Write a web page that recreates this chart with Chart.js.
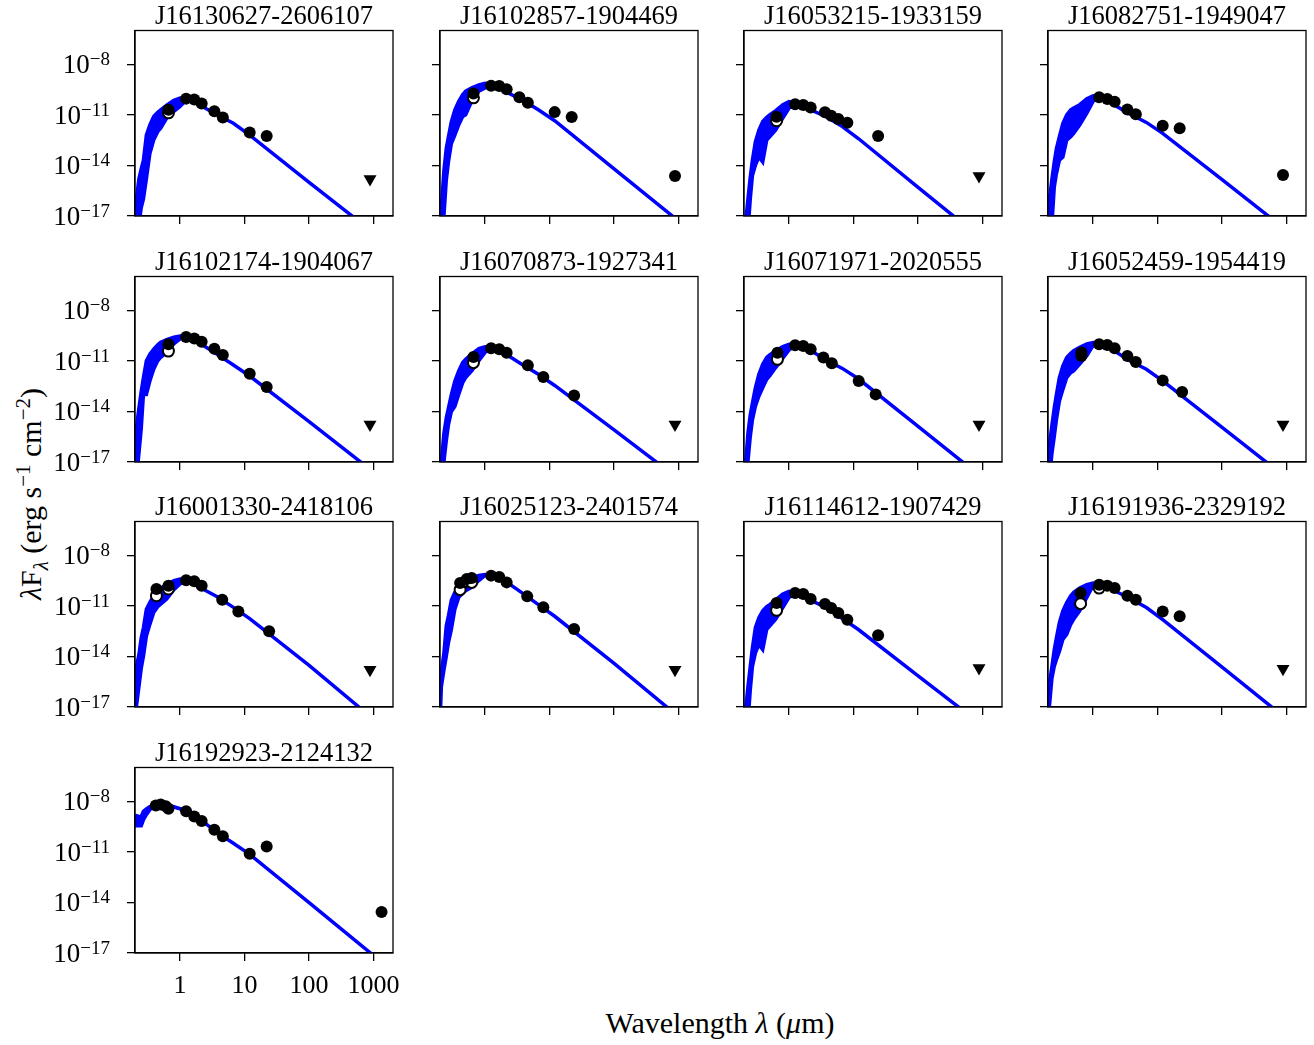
<!DOCTYPE html>
<html>
<head>
<meta charset="utf-8">
<script src="https://cdn.jsdelivr.net/npm/chart.js@4.4.1/dist/chart.umd.min.js"></script>
<style>
  body { margin: 0; background: #fff; }
  #fig { position: relative; width: 1314px; height: 1045px; overflow: hidden; font-family: 'Liberation Serif', 'DejaVu Serif', serif; color: #000; }
  #fig canvas { position: absolute; }
  .axlabel { position: absolute; font-size: 30px; white-space: nowrap; line-height: 1; }
  .axlabel sup, .axlabel sub { font-size: 0.7em; }
  #ylab { left: 32px; top: 494px; transform: translate(-50%, -50%) rotate(-90deg); }
  #xlab { left: 720px; top: 1023px; transform: translate(-50%, -50%); }
</style>
</head>
<body>
<div id="fig">
  <div class="axlabel" id="ylab"><i>λ</i>F<sub><i>λ</i></sub> (erg s<sup>−1</sup> cm<sup>−2</sup>)</div>
  <div class="axlabel" id="xlab">Wavelength <i>λ</i> (<i>μ</i>m)</div>
</div>
<script>
Chart.defaults.font.family = "'Liberation Serif', 'DejaVu Serif', serif";
Chart.defaults.color = '#000';

const titles = [
  'J16130627-2606107', 'J16102857-1904469', 'J16053215-1933159', 'J16082751-1949047',
  'J16102174-1904067', 'J16070873-1927341', 'J16071971-2020555', 'J16052459-1954419',
  'J16001330-2418106', 'J16025123-2401574', 'J16114612-1907429', 'J16191936-2329192',
  'J16192923-2124132'
];

// photosphere model, upper edge of the line (log10 of lambda F_lambda)
const modelWave = [0.2, 0.21, 0.23, 0.25, 0.27, 0.3, 0.34, 0.39, 0.45, 0.5, 0.62, 0.8, 1.0, 1.3, 2.0, 3.7, 6.7, 12, 100, 1000, 3000];
const modelLogFlux = [
  [-18, -16.0, -14.8, -14.2, -13.7, -12.2, -11.6, -11.1, -10.85, -10.7, -10.43, -10.14, -10.0, -10.05, -10.4, -11.0, -11.5, -12.2, -15.0, -18.0, -19.4],
  [-17.5, -16.5, -14.3, -13.0, -12.3, -11.4, -10.7, -10.2, -9.8, -9.6, -9.4, -9.22, -9.13, -9.2, -9.6, -10.1, -10.7, -11.35, -14.2, -17.3, -18.8],
  [-18, -17.5, -16.0, -14.7, -13.7, -12.6, -11.9, -11.4, -11.15, -11.0, -10.75, -10.4, -10.22, -10.3, -10.65, -11.1, -11.7, -12.42, -15.3, -18.4, -19.9],
  [-18, -16.05, -14.8, -13.8, -13.0, -12.3, -11.5, -11.0, -10.7, -10.6, -10.4, -10.05, -9.87, -9.95, -10.35, -10.95, -11.45, -12.1, -14.85, -17.85, -19.3],
  [-17.5, -15.0, -13.8, -12.8, -12.0, -11.0, -10.6, -10.3, -10.05, -9.9, -9.75, -9.6, -9.53, -9.6, -9.95, -10.6, -11.25, -11.9, -14.6, -17.6, -19.0],
  [-18, -17.0, -15.3, -14.4, -13.8, -13.0, -12.2, -11.6, -11.1, -10.9, -10.6, -10.28, -10.16, -10.2, -10.55, -11.2, -11.8, -12.46, -15.1, -18.0, -19.4],
  [-18, -17.3, -15.3, -14.2, -13.5, -12.6, -11.8, -11.2, -10.8, -10.65, -10.4, -10.15, -10.02, -10.1, -10.3, -10.95, -11.45, -12.08, -14.89, -17.95, -19.4],
  [-18, -16.0, -14.8, -13.8, -13.0, -12.0, -11.3, -10.8, -10.55, -10.4, -10.2, -10.0, -9.92, -10.0, -10.35, -11.0, -11.5, -12.19, -14.95, -17.95, -19.4],
  [-15.2, -14.6, -13.9, -12.9, -12.3, -11.2, -10.8, -10.4, -10.05, -9.95, -9.75, -9.5, -9.41, -9.5, -9.9, -10.45, -11.09, -11.76, -14.53, -17.73, -19.25],
  [-15.6, -14.9, -13.8, -12.2, -11.6, -10.65, -10.2, -9.95, -9.78, -9.6, -9.35, -9.2, -9.15, -9.2, -9.5, -10.22, -10.93, -11.62, -14.41, -17.58, -19.1],
  [-18, -17.3, -15.8, -14.6, -13.5, -12.3, -11.7, -11.3, -11.05, -10.93, -10.65, -10.3, -10.14, -10.25, -10.6, -11.1, -11.75, -12.42, -15.15, -18.1, -19.5],
  [-18, -15.6, -14.6, -13.6, -12.9, -12.0, -11.3, -10.8, -10.4, -10.2, -9.95, -9.75, -9.65, -9.7, -10.05, -10.55, -11.1, -11.82, -14.64, -17.71, -19.2],
  [-8.9, -8.85, -8.9, -8.9, -8.6, -8.45, -8.32, -8.24, -8.2, -8.2, -8.25, -8.32, -8.44, -8.6, -9.03, -9.85, -10.49, -11.15, -14.01, -17.15, -18.65]
];

// lower edge of the noisy optical part of the model
const bandWave = [0.2, 0.21, 0.23, 0.25, 0.27, 0.3, 0.34, 0.39, 0.45, 0.5, 0.62, 0.8, 1.0, 1.3];
const bandLogFlux = [
  [-18, -18, -17.5, -16.5, -16.0, -14.8, -13.3, -12.5, -12.0, -11.8, -11.2, -10.8, -10.5, -10.05],
  [-18, -18, -17.0, -14.9, -13.8, -12.7, -12.2, -11.6, -11.1, -11.0, -10.2, -9.6, -9.4, -9.2],
  [-18, -18, -18, -16.0, -14.6, -14.0, -13.5, -13.8, -12.5, -12.3, -11.9, -11.2, -10.6, -10.3],
  [-18, -18, -17.5, -15.3, -14.5, -13.7, -13.5, -12.5, -12.3, -12.1, -11.6, -10.9, -10.2, -9.95],
  [-18, -18, -16.5, -15.0, -13.0, -13.0, -12.2, -11.5, -11.0, -10.8, -10.5, -10.0, -9.7, -9.6],
  [-18, -18, -17.0, -15.75, -14.8, -14.0, -13.7, -13.0, -12.3, -12.0, -11.6, -11.0, -10.5, -10.2],
  [-18, -18, -17.0, -15.5, -14.5, -13.7, -13.1, -12.6, -12.1, -11.9, -11.4, -10.85, -10.35, -10.1],
  [-18, -18, -16.5, -15.5, -14.5, -13.4, -12.7, -12.0, -11.7, -11.6, -11.2, -10.7, -10.1, -10.0],
  [-18, -17.0, -15.8, -14.7, -14.0, -12.8, -12.1, -11.4, -11.05, -10.9, -10.6, -10.04, -9.7, -9.5],
  [-18, -15.8, -14.8, -14.0, -13.2, -12.4, -11.2, -10.5, -10.25, -10.1, -9.9, -9.5, -9.2, -9.2],
  [-18, -18, -18, -16.0, -14.6, -13.8, -13.3, -13.6, -12.4, -12.2, -11.8, -11.1, -10.5, -10.25],
  [-18, -17.0, -15.3, -14.6, -14.2, -13.7, -13.0, -12.7, -12.1, -11.8, -11.3, -10.5, -9.8, -9.7],
  [-9.45, -9.45, -9.45, -9.45, -9.1, -8.8, -8.5, -8.35, -8.3, -8.28, -8.3, -8.35, -8.45, -8.6]
];

// photometry: filled = detections
const filledWave = [
  [0.66, 1.24, 1.66, 2.16, 3.4, 4.6, 12, 22],
  [0.66, 1.24, 1.66, 2.16, 3.4, 4.6, 12, 22, 880],
  [0.64, 1.24, 1.66, 2.16, 3.6, 4.5, 5.8, 8.0, 24],
  [1.24, 1.66, 2.16, 3.4, 4.6, 12, 22, 880],
  [0.66, 1.24, 1.66, 2.16, 3.4, 4.6, 12, 22],
  [0.66, 1.24, 1.66, 2.16, 4.6, 8.0, 24],
  [0.66, 1.24, 1.66, 2.16, 3.4, 4.6, 12, 22],
  [0.66, 0.66, 1.24, 1.66, 2.16, 3.4, 4.6, 12, 24],
  [0.43, 0.66, 1.24, 1.66, 2.16, 4.5, 8.0, 24],
  [0.41, 0.52, 0.62, 1.24, 1.66, 2.16, 4.5, 8.0, 24],
  [0.64, 1.24, 1.66, 2.16, 3.6, 4.5, 5.8, 8.0, 24],
  [0.64, 1.24, 1.66, 2.16, 3.4, 4.6, 12, 22],
  [0.42, 0.5, 0.6, 0.66, 1.24, 1.66, 2.16, 3.4, 4.6, 12, 22, 1330]
];
const filledLogFlux = [
  [-10.7, -10.04, -10.09, -10.33, -10.79, -11.16, -12.05, -12.25],
  [-9.73, -9.28, -9.29, -9.49, -9.96, -10.28, -10.84, -11.13, -14.63],
  [-11.11, -10.38, -10.42, -10.56, -10.85, -11.05, -11.25, -11.47, -12.26],
  [-9.96, -10.06, -10.22, -10.68, -10.97, -11.65, -11.8, -14.57],
  [-10.02, -9.59, -9.67, -9.87, -10.28, -10.66, -11.77, -12.55],
  [-10.77, -10.26, -10.32, -10.52, -11.27, -11.96, -13.05],
  [-10.52, -10.08, -10.12, -10.32, -10.81, -11.15, -12.2, -12.99],
  [-10.5, -10.72, -10.02, -10.06, -10.26, -10.72, -11.07, -12.16, -12.85],
  [-10.0, -9.81, -9.49, -9.55, -9.81, -10.64, -11.33, -12.51],
  [-9.65, -9.41, -9.35, -9.21, -9.29, -9.61, -10.44, -11.09, -12.38],
  [-10.83, -10.24, -10.3, -10.6, -10.89, -11.13, -11.43, -11.82, -12.75],
  [-10.24, -9.75, -9.81, -9.94, -10.4, -10.64, -11.33, -11.62],
  [-8.25, -8.2, -8.3, -8.45, -8.6, -8.9, -9.17, -9.69, -10.08, -11.11, -10.68, -14.57]
];

// open circles = observed optical fluxes
const openWave = [
  [0.66], [0.66], [0.64], [], [0.66], [0.66], [0.66], [],
  [0.43, 0.66], [0.41, 0.52, 0.62], [0.64], [0.64, 1.24], []
];
const openLogFlux = [
  [-10.88], [-9.99], [-11.35], [], [-10.42], [-11.11], [-10.91], [],
  [-10.4, -10.0], [-10.04, -9.55, -9.61], [-11.27], [-10.87, -9.95], []
];

// triangles = upper limits
const limitWave = [[880], [], [880], [], [880], [880], [880], [880], [880], [880], [880], [880], []];
const limitLogFlux = [[-14.81], [], [-14.63], [], [-14.77], [-14.77], [-14.77], [-14.77], [-14.79], [-14.79], [-14.69], [-14.73], []];

const xTickValues = [1, 10, 100, 1000];
const xTickLabels = ['1', '10', '100', '1000'];
const yTickValues = [1e-17, 1e-14, 1e-11, 1e-8];
const yTickBase = '10';
const yTickExp = ['−17', '−14', '−11', '−8'];

function pts(wave, logf) {
  return wave.map((w, k) => ({ x: w, y: Math.pow(10, logf[k]) }));
}

const frame = {
  id: 'frame',
  afterDatasetsDraw(chart) {
    const a = chart.chartArea;
    const ctx = chart.ctx;
    ctx.save();
    ctx.strokeStyle = '#000';
    ctx.lineWidth = 1.3;
    ctx.strokeRect(a.left, a.top, a.right - a.left, a.bottom - a.top);
    ctx.restore();
  }
};

// y tick labels as 10 with a raised exponent, placed on the y scale
const powerLabels = {
  id: 'powerLabels',
  afterDraw(chart) {
    const s = chart.scales.y;
    const ctx = chart.ctx;
    const right = chart.chartArea.left - 25;
    const fam = "'Liberation Serif', 'DejaVu Serif', serif";
    ctx.save();
    ctx.fillStyle = '#000';
    ctx.textAlign = 'left';
    ctx.textBaseline = 'alphabetic';
    yTickValues.forEach((v, k) => {
      const y = s.getPixelForValue(v);
      ctx.font = '19px ' + fam;
      const ew = ctx.measureText(yTickExp[k]).width;
      ctx.font = '27px ' + fam;
      const bw = ctx.measureText(yTickBase).width;
      const x0 = right - ew - bw;
      ctx.fillText(yTickBase, x0, y + 9);
      ctx.font = '19px ' + fam;
      ctx.fillText(yTickExp[k], x0 + bw, y + 1);
    });
    ctx.restore();
  }
};

const colLeft = [135, 440, 744, 1048];
const rowTop = [30, 276, 521, 767];
const plotW = 258, plotH = 186;
const fig = document.getElementById('fig');

function makePanel(i) {
  const row = Math.floor(i / 4), col = i % 4;
  const padL = col === 0 ? 135 : 24;
  const padT = 32, padR = 10;
  const padB = row === 3 ? 55 : 14;

  const cv = document.createElement('canvas');
  cv.width = padL + plotW + padR;
  cv.height = padT + plotH + padB;
  cv.style.left = (colLeft[col] - padL) + 'px';
  cv.style.top = (rowTop[row] - padT) + 'px';
  fig.appendChild(cv);

  const tickGrid = { display: true, drawOnChartArea: false, drawTicks: true, tickLength: 8, color: '#000', lineWidth: 1.3 };
  const border = { display: true, color: '#000', width: 1.3 };

  new Chart(cv, {
    type: 'line',
    data: {
      datasets: [
        { data: pts(modelWave, modelLogFlux[i]), borderColor: '#0000ff', borderWidth: 3.5, pointRadius: 0, fill: false, tension: 0, clip: 0, order: 4 },
        { data: pts(bandWave, bandLogFlux[i]), borderColor: '#0000ff', backgroundColor: '#0000ff', borderWidth: 3.5, pointRadius: 0, fill: '-1', tension: 0, clip: 0, order: 3 },
        { data: pts(openWave[i], openLogFlux[i]), showLine: false, pointRadius: 5.5, pointBackgroundColor: '#fff', pointBorderColor: '#000', pointBorderWidth: 2, clip: false, order: 2 },
        { data: pts(filledWave[i], filledLogFlux[i]), showLine: false, pointRadius: 6, pointBackgroundColor: '#000', pointBorderColor: '#000', pointBorderWidth: 0, clip: false, order: 1 },
        { data: pts(limitWave[i], limitLogFlux[i]), showLine: false, pointStyle: 'triangle', pointRotation: 180, pointRadius: 7.5, pointBackgroundColor: '#000', pointBorderColor: '#000', pointBorderWidth: 0, clip: false, order: 0 }
      ]
    },
    options: {
      animation: false,
      responsive: false,
      devicePixelRatio: 1,
      events: [],
      layout: { padding: { left: 0, right: padR, top: 0, bottom: 0 }, autoPadding: false },
      plugins: {
        legend: { display: false },
        tooltip: { enabled: false },
        title: {
          display: true, text: titles[i], fullSize: false, color: '#000',
          font: { size: 26.5, lineHeight: 1, weight: 'normal' },
          padding: { top: 6, bottom: 0 }
        }
      },
      scales: {
        x: {
          type: 'logarithmic', min: 0.2, max: 2000,
          afterFit: (s) => { s.height = padB; s.paddingLeft = 0; s.paddingRight = 0; },
          afterBuildTicks: (s) => { s.ticks = xTickValues.map((v) => ({ value: v })); },
          ticks: { display: row === 3, autoSkip: false, maxRotation: 0, padding: 10, font: { size: 26 }, color: '#000',
            callback: (v, k) => xTickLabels[k] },
          grid: tickGrid,
          border: border
        },
        y: {
          type: 'logarithmic', min: 1e-17, max: 1e-6,
          afterFit: (s) => { s.width = padL; s.paddingTop = 0; s.paddingBottom = 0; },
          afterBuildTicks: (s) => { s.ticks = yTickValues.map((v) => ({ value: v })); },
          ticks: { display: false },
          grid: tickGrid,
          border: border
        }
      }
    },
    plugins: col === 0 ? [frame, powerLabels] : [frame]
  });
}

for (let i = 0; i < titles.length; i++) {
  makePanel(i);
}
</script>
</body>
</html>
